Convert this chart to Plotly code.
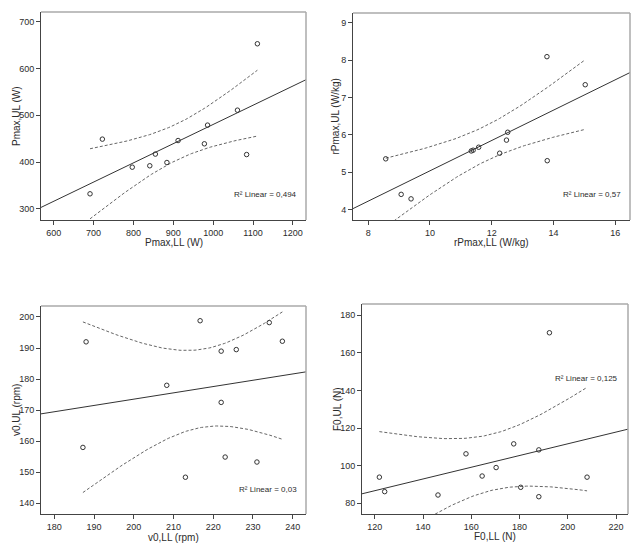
import numpy as np
import plotly.graph_objects as go

# ---- data ----
pmax_ll = [691, 722, 797, 841, 855, 884, 912, 978, 986, 1061, 1084, 1111]
pmax_ul = [332, 449, 389, 392, 417, 399, 446, 439, 479, 511, 416, 653]

rpmax_ll = [8.57, 9.07, 9.39, 11.34, 11.40, 11.58, 12.26, 12.48, 12.52, 13.79, 13.80, 15.03]
rpmax_ul = [5.36, 4.41, 4.29, 5.57, 5.59, 5.67, 5.51, 5.86, 6.07, 8.09, 5.31, 7.34]

v0_ll = [187.2, 188.0, 208.3, 213.0, 216.7, 222.0, 222.0, 223.0, 225.8, 231.0, 234.1, 237.4]
v0_ul = [158.0, 192.0, 178.0, 148.4, 198.8, 189.0, 172.5, 154.9, 189.5, 153.3, 198.2, 192.2]

f0_ll = [121.9, 124.1, 146.2, 157.8, 164.5, 170.3, 177.6, 180.5, 188.0, 188.0, 192.4, 208.0]
f0_ul = [93.9, 86.2, 84.4, 106.3, 94.5, 99.0, 111.6, 88.5, 108.4, 83.5, 170.7, 93.9]

r2_labels = ["0,494", "0,57", "0,03", "0,125"]
x_titles = ["Pmax,LL (W)", "rPmax,LL (W/kg)", "v0,LL (rpm)", "F0,LL (N)"]
y_titles = ["Pmax,UL (W)", "rPmax,UL (W/kg)", "v0,UL (rpm)", "F0,UL (N)"]
x_ticks = [[600, 700, 800, 900, 1000, 1100, 1200], [8, 10, 12, 14, 16],
           [180, 190, 200, 210, 220, 230, 240], [120, 140, 160, 180, 200, 220]]
y_ticks = [[300, 400, 500, 600, 700], [4, 5, 6, 7, 8, 9],
           [140, 150, 160, 170, 180, 190, 200], [80, 100, 120, 140, 160, 180]]

# ---- layout in window pixels (page body has an 8px margin) ----
W, H = 642, 553
OFF = 8
FW, FH = W - OFF, H - OFF


def fx(px):
    return (px - OFF) / FW


def fy(py):
    return 1 - (py - OFF) / FH


panels = [
    dict(x=pmax_ll, y=pmax_ul, px=(41, 306), py=(12, 220), xr=(568, 1233), yr=(276, 721),
         r2=(0.975, 0.125), ytx=16, xty=242),
    dict(x=rpmax_ll, y=rpmax_ul, px=(353, 630), py=(13, 220), xr=(7.51, 16.48), yr=(3.725, 9.257),
         r2=(0.975, 0.125), ytx=335, xty=242),
    dict(x=v0_ll, y=v0_ul, px=(41, 306), py=(306, 514), xr=(176.65, 243.35), yr=(136.56, 203.54),
         r2=(0.975, 0.12), ytx=16, xty=537),
    dict(x=f0_ll, y=f0_ul, px=(362, 628), py=(304, 514), xr=(114.7, 224.97), yr=(74.3, 186.0),
         r2=(0.97, 0.645), ytx=337, xty=536),
]

T_CRIT = 2.228  # t(0.975, df=10)
font = "Arial, 'Liberation Sans', sans-serif"
dark = "#2b2b2b"

fig = go.Figure()
shapes, annotations = [], []
layout = {}

for i, p in enumerate(panels):
    n = i + 1
    xa = "x" if n == 1 else f"x{n}"
    ya = "y" if n == 1 else f"y{n}"
    xd = [fx(p["px"][0]), fx(p["px"][1])]
    yd = [fy(p["py"][1]), fy(p["py"][0])]

    x = np.array(p["x"], float)
    y = np.array(p["y"], float)
    b, a = np.polyfit(x, y, 1)
    nn = len(x)
    resid = y - (a + b * x)
    s = np.sqrt(np.sum(resid ** 2) / (nn - 2))
    xbar = x.mean()
    sxx = np.sum((x - xbar) ** 2)
    xg = np.linspace(x.min(), x.max(), 80)
    yg = a + b * xg
    half = T_CRIT * s * np.sqrt(1 / nn + (xg - xbar) ** 2 / sxx)

    xl = np.array(p["xr"])
    fig.add_trace(go.Scatter(x=xl, y=a + b * xl, mode="lines", line=dict(color="#333333", width=1),
                             xaxis=xa, yaxis=ya, showlegend=False, hoverinfo="skip"))
    for sign in (1, -1):
        fig.add_trace(go.Scatter(x=xg, y=yg + sign * half, mode="lines",
                                 line=dict(color="#666666", width=1, dash="3px,2px"),
                                 xaxis=xa, yaxis=ya, showlegend=False, hoverinfo="skip"))
    fig.add_trace(go.Scatter(x=x, y=y, mode="markers",
                             marker=dict(symbol="circle-open", size=4.5, color="#333333",
                                         line=dict(width=1)),
                             xaxis=xa, yaxis=ya, showlegend=False))

    axkw = dict(showgrid=False, zeroline=False, showline=True, linecolor="#444444", linewidth=1,
                ticks="outside", ticklen=4, tickcolor="#444444", tickwidth=1,
                tickfont=dict(family=font, size=9, color=dark), fixedrange=True)
    layout["xaxis" if n == 1 else f"xaxis{n}"] = dict(
        domain=xd, range=list(p["xr"]), tickvals=x_ticks[i], anchor=ya, **axkw)
    layout["yaxis" if n == 1 else f"yaxis{n}"] = dict(
        domain=yd, range=list(p["yr"]), tickvals=y_ticks[i], anchor=xa, **axkw)

    # light top/right frame
    shapes.append(dict(type="line", xref="paper", yref="paper", x0=xd[0], x1=xd[1], y0=yd[1], y1=yd[1],
                       line=dict(color="#aaaaaa", width=1.5)))
    shapes.append(dict(type="line", xref="paper", yref="paper", x0=xd[1], x1=xd[1], y0=yd[0], y1=yd[1],
                       line=dict(color="#aaaaaa", width=1.5)))

    # axis titles
    annotations.append(dict(text=x_titles[i], xref="paper", yref="paper",
                            x=(xd[0] + xd[1]) / 2, y=fy(p["xty"]), xanchor="center", yanchor="middle",
                            showarrow=False, font=dict(family=font, size=10, color=dark)))
    annotations.append(dict(text=y_titles[i], xref="paper", yref="paper",
                            x=fx(p["ytx"]), y=(yd[0] + yd[1]) / 2, xanchor="center", yanchor="middle",
                            textangle=-90, showarrow=False, font=dict(family=font, size=10, color=dark)))
    # R^2 label
    annotations.append(dict(text=f"R² Linear = {r2_labels[i]}",
                            xref=f"{xa} domain", yref=f"{ya} domain",
                            x=p["r2"][0], y=p["r2"][1], xanchor="right", yanchor="middle",
                            showarrow=False, font=dict(family=font, size=8, color=dark)))

fig.update_layout(width=FW, height=FH, margin=dict(l=0, r=0, t=0, b=0),
                  paper_bgcolor="white", plot_bgcolor="white",
                  shapes=shapes, annotations=annotations, **layout)

fig.write_html("out.html")
